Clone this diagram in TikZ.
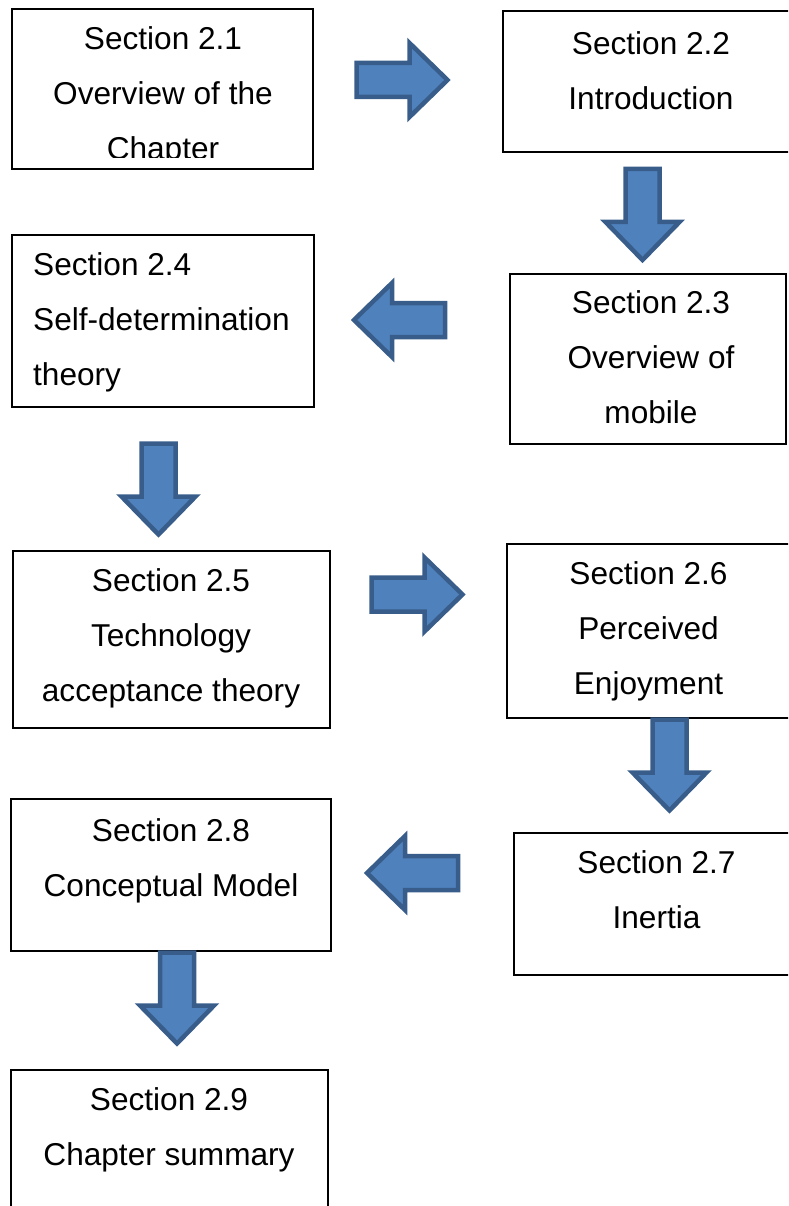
\documentclass[tikz,border=0pt]{standalone}
\usepackage{fontspec}
\setmainfont{Liberation Sans}
\definecolor{arrowfill}{HTML}{4F81BD}
\definecolor{arrowline}{HTML}{385D8A}
\begin{document}
\begin{tikzpicture}[x=1pt,y=-1pt,
  box/.style={draw=black, fill=white, line width=2pt, rectangle, inner sep=0pt},
  boxtext/.style={inner sep=0pt, align=center, font=\fontsize{31.6}{55}\selectfont},
  blockarr/.pic={
    \draw[fill=arrowfill, draw=arrowline, line width=4.5pt, line join=miter]
      (-45.5,-17) -- (7.5,-17) -- (7.5,-37) -- (45.5,0) -- (7.5,37) -- (7.5,17) -- (-45.5,17) -- cycle;
  }]
\useasboundingbox (0,0) rectangle (788,1206);
\clip (0,0) rectangle (788,1206);

% section boxes
\node[box, minimum width=301, minimum height=160] (b1) at (162.5,89) {};
\node[box, minimum width=296, minimum height=141] (b2) at (651,81.5) {};
\node[box, minimum width=276, minimum height=170] (b3) at (648,359) {};
\node[box, minimum width=302, minimum height=172] (b4) at (163,321) {};
\node[box, minimum width=317, minimum height=177] (b5) at (171.5,639.5) {};
\node[box, minimum width=292, minimum height=174] (b6) at (653,631) {};
\node[box, minimum width=295, minimum height=142] (b7) at (661.5,904) {};
\node[box, minimum width=320, minimum height=152] (b8) at (171,875) {};
\node[box, minimum width=317, minimum height=159] (b9) at (169.5,1149.5) {};

% box texts (anchored at the baseline of their last line)
\begin{scope}
  \clip (11,8) rectangle (314,158);
  \node[boxtext, anchor=base] (t1) at (163,160) {Section 2.1\\Overview of the\\Chapter};
\end{scope}
\node[boxtext, anchor=base] (t2) at (651,110) {Section 2.2\\Introduction};
\node[boxtext, anchor=base] (t3) at (651,423) {Section 2.3\\Overview of\\mobile};
\node[boxtext, anchor=base west, align=left] (t4) at (33,385) {Section 2.4\\Self-determination\\theory};
\node[boxtext, anchor=base] (t5) at (171,701) {Section 2.5\\Technology\\acceptance theory};
\node[boxtext, anchor=base] (t6) at (648.5,694) {Section 2.6\\Perceived\\Enjoyment};
\node[boxtext, anchor=base] (t7) at (656.5,928) {Section 2.7\\Inertia};
\node[boxtext, anchor=base] (t8) at (171,896) {Section 2.8\\Conceptual Model};
\node[boxtext, anchor=base] (t9) at (169,1165) {Section 2.9\\Chapter summary};

% block arrows between the sections
\pic at (402,80) {blockarr};
\pic[rotate=-90] at (642.5,214.5) {blockarr};
\pic[rotate=180] at (399.5,320) {blockarr};
\pic[rotate=-90] at (158.5,489) {blockarr};
\pic at (417,594.5) {blockarr};
\pic[rotate=-90] at (669.5,765) {blockarr};
\pic[rotate=180] at (412.5,873) {blockarr};
\pic[rotate=-90] at (177,998) {blockarr};
\end{tikzpicture}
\end{document}
